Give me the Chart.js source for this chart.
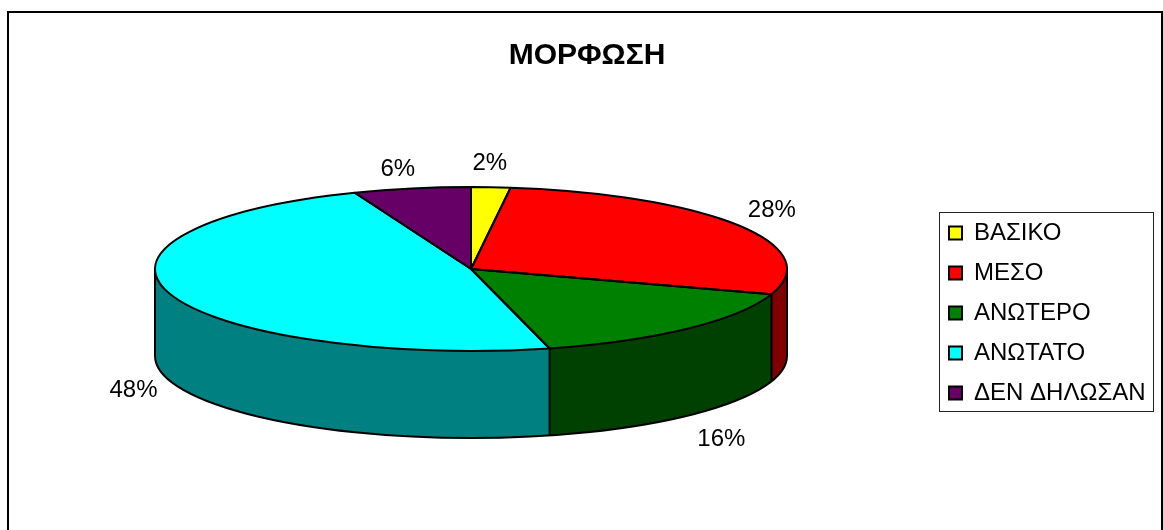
<!DOCTYPE html>
<html><head><meta charset="utf-8">
<style>html,body{margin:0;padding:0;background:#fff}canvas{display:block}</style>
<script src="https://cdn.jsdelivr.net/npm/chart.js@4"></script>
</head><body><canvas id="c" width="1163" height="530"></canvas>
<script>
const titleText = 'ΜΟΡΦΩΣΗ';
const categories = ['ΒΑΣΙΚΟ','ΜΕΣΟ','ΑΝΩΤΕΡΟ','ΑΝΩΤΑΤΟ','ΔΕΝ ΔΗΛΩΣΑΝ'];
const values = [2,28,16,48,6];
const topColors = ['#ffff00','#ff0000','#008000','#00ffff','#660066'];
const wallColors = ['#808000','#800000','#004000','#008080','#330033'];
const FONT = '"Liberation Sans", Arial, sans-serif';

const PIE = {cx:471, cy:269, r:316, ry:82, depth:87};
const labelNudge = [[-1,-24],[34,-15],[34,24],[-37,9],[-14,-19]];

function withPieTransform(ctx, el){
  ctx.translate(PIE.cx, PIE.cy);
  ctx.scale(1, PIE.ry / PIE.r);
  ctx.translate(-el.x, -el.y);
}
const pie3d = {
  id:'pie3d',
  afterLayout(chart){
    const l = chart.legend;
    const w = l.right - l.left, h = l.bottom - l.top;
    l.left = 933; l.right = l.left + w; l.top = 205; l.bottom = l.top + h;
  },
  beforeDraw(chart){
    const ctx = chart.ctx;
    ctx.save();
    ctx.fillStyle = '#fff'; ctx.fillRect(0,0,1163,530);
    ctx.fillStyle = '#000';
    ctx.fillRect(7,11,1156,2);
    ctx.fillRect(7,11,2,519);
    ctx.fillRect(1161,11,2,519);
    ctx.strokeStyle = '#222'; ctx.lineWidth = 1;
    ctx.strokeRect(939.5,212.5,214,199);
    ctx.restore();
  },
  beforeDatasetsDraw(chart){
    const ctx = chart.ctx, els = chart.getDatasetMeta(0).data;
    // side wall of every slice that faces the viewer
    els.forEach((el,i)=>{
      const a0 = Math.max(el.startAngle, 0), a1 = Math.min(el.endAngle, Math.PI);
      if(a1 <= a0) return;
      ctx.beginPath();
      ctx.ellipse(PIE.cx, PIE.cy + PIE.depth, PIE.r, PIE.ry, 0, a0, a1);
      ctx.lineTo(PIE.cx + PIE.r*Math.cos(a1), PIE.cy);
      ctx.lineTo(PIE.cx + PIE.r*Math.cos(a0), PIE.cy);
      ctx.closePath();
      ctx.fillStyle = wallColors[i];
      ctx.fill();
    });
    ctx.save();
    withPieTransform(ctx, els[0]);
  },
  afterDatasetsDraw(chart){
    const ctx = chart.ctx, els = chart.getDatasetMeta(0).data;
    ctx.restore();
    ctx.save();
    ctx.strokeStyle = '#000'; ctx.lineWidth = 2; ctx.lineJoin = 'round';
    // bottom rim and wall edges
    ctx.beginPath();
    ctx.ellipse(PIE.cx, PIE.cy + PIE.depth, PIE.r, PIE.ry, 0, 0, Math.PI);
    ctx.moveTo(PIE.cx - PIE.r, PIE.cy); ctx.lineTo(PIE.cx - PIE.r, PIE.cy + PIE.depth);
    ctx.moveTo(PIE.cx + PIE.r, PIE.cy); ctx.lineTo(PIE.cx + PIE.r, PIE.cy + PIE.depth);
    els.forEach(el=>{
      if(Math.sin(el.startAngle) > 0){
        const x = PIE.cx + PIE.r*Math.cos(el.startAngle), y = PIE.cy + PIE.ry*Math.sin(el.startAngle);
        ctx.moveTo(x,y); ctx.lineTo(x,y+PIE.depth);
      }
    });
    ctx.stroke();
    // top face outlines
    els.forEach(el=>{
      ctx.beginPath();
      ctx.ellipse(PIE.cx, PIE.cy, PIE.r, PIE.ry, 0, el.startAngle, el.endAngle);
      ctx.lineTo(PIE.cx, PIE.cy);
      ctx.closePath();
      ctx.stroke();
    });
    // percent labels
    const total = values.reduce((a,b)=>a+b,0);
    ctx.fillStyle = '#000'; ctx.font = '24px '+FONT; ctx.textAlign='center'; ctx.textBaseline='middle';
    els.forEach((el,i)=>{
      const a = (el.startAngle + el.endAngle)/2;
      const s = Math.sin(a);
      const x = PIE.cx + PIE.r*Math.cos(a) + labelNudge[i][0];
      const y = PIE.cy + PIE.ry*s + (s>0?PIE.depth:0) + labelNudge[i][1];
      ctx.fillText(Math.round(values[i]/total*100)+'%', x, y);
    });
    ctx.restore();
  }
};
new Chart(document.getElementById('c'),{
  type:'pie',
  data:{labels:categories,datasets:[{data:values,backgroundColor:topColors,borderWidth:0,clip:false}]},
  plugins:[pie3d],
  options:{
    responsive:false, animation:false, devicePixelRatio:1,
    radius:PIE.r,
    layout:{padding:{left:11,right:0,top:0,bottom:0}},
    plugins:{
      tooltip:{enabled:false},
      title:{display:true,text:titleText,color:'#000',font:{family:FONT,size:30,weight:'bold'},padding:{top:38,bottom:20}},
      legend:{display:true,position:'right',align:'start',
        labels:{font:{family:FONT,size:24},color:'#000',boxWidth:13,boxHeight:13,padding:16,
          generateLabels(chart){
            return Chart.overrides.pie.plugins.legend.labels.generateLabels(chart).map(it=>({...it,strokeStyle:'#000',lineWidth:2}));
          }}
      }
    }
  }
});
</script></body></html>
